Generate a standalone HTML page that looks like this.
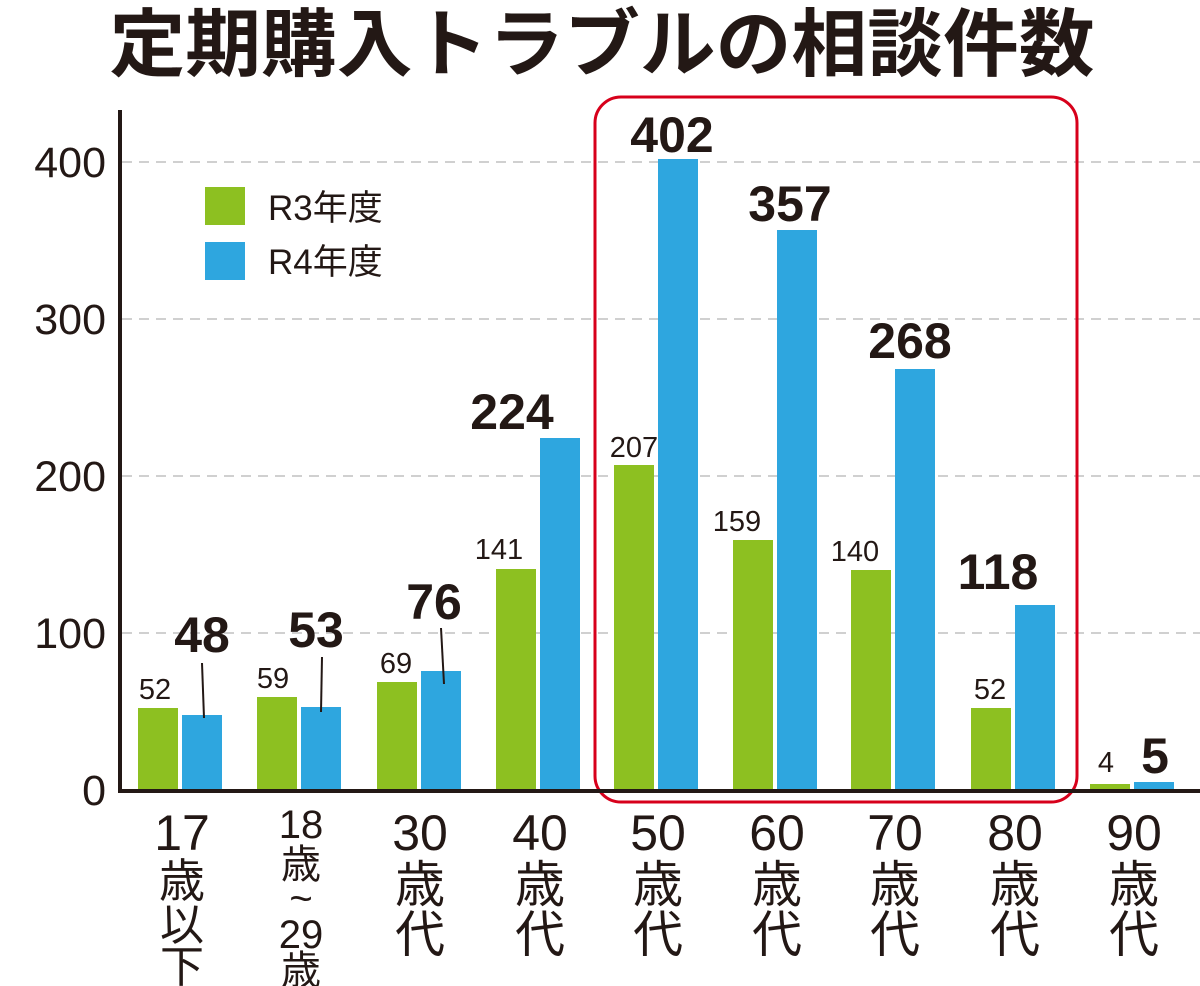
<!DOCTYPE html>
<html><head><meta charset="utf-8"><style>
html,body{margin:0;padding:0;background:#fff;}
svg{display:block;}
text{font-family:"Liberation Sans","Noto Sans CJK JP",sans-serif;fill:#231815;}
</style></head><body>
<svg width="1200" height="986" viewBox="0 0 1200 986">
<text x="602" y="70" text-anchor="middle" font-size="74" font-weight="bold" textLength="985" lengthAdjust="spacingAndGlyphs">定期購入トラブルの相談件数</text>
<g stroke="#d0d0d0" stroke-width="2" stroke-dasharray="10,7">
<line x1="122" y1="162" x2="1200" y2="162"/><line x1="122" y1="319" x2="1200" y2="319"/>
<line x1="122" y1="476" x2="1200" y2="476"/><line x1="122" y1="633" x2="1200" y2="633"/>
</g>
<g font-size="43" text-anchor="end">
<text x="106" y="177">400</text><text x="106" y="334">300</text><text x="106" y="491">200</text><text x="106" y="648">100</text><text x="106" y="805">0</text>
</g>
<rect x="595" y="97" width="482" height="705" rx="26" fill="none" stroke="#d7001b" stroke-width="3"/>
<g fill="#8dc021">
<rect x="138" y="708" width="40" height="82"/><rect x="257" y="697" width="40" height="93"/>
<rect x="377" y="682" width="40" height="108"/><rect x="496" y="569" width="40" height="221"/>
<rect x="614" y="465" width="40" height="325"/><rect x="733" y="540" width="40" height="250"/>
<rect x="851" y="570" width="40" height="220"/><rect x="971" y="708" width="40" height="82"/>
<rect x="1090" y="784" width="40" height="6"/>
</g>
<g fill="#2ea6df">
<rect x="182" y="715" width="40" height="75"/><rect x="301" y="707" width="40" height="83"/>
<rect x="421" y="671" width="40" height="119"/><rect x="540" y="438" width="40" height="352"/>
<rect x="658" y="159" width="40" height="631"/><rect x="777" y="230" width="40" height="560"/>
<rect x="895" y="369" width="40" height="421"/><rect x="1015" y="605" width="40" height="185"/>
<rect x="1134" y="782" width="40" height="8"/>
</g>
<line x1="120" y1="110" x2="120" y2="792" stroke="#231815" stroke-width="4"/>
<line x1="118" y1="791" x2="1200" y2="791" stroke="#231815" stroke-width="4"/>
<rect x="205" y="187" width="40" height="38" fill="#8dc021"/>
<rect x="205" y="242" width="40" height="38" fill="#2ea6df"/>
<text x="268" y="220" font-size="35">R3年度</text>
<text x="268" y="274" font-size="35">R4年度</text>
<g font-size="29" text-anchor="middle">
<text x="155" y="699">52</text><text x="273" y="688">59</text><text x="396" y="673">69</text>
<text x="499" y="559">141</text><text x="634" y="457">207</text><text x="737" y="531">159</text>
<text x="855" y="561">140</text><text x="990" y="699">52</text><text x="1106" y="772">4</text>
</g>
<g font-size="50" font-weight="bold" text-anchor="middle">
<text x="202" y="652">48</text><text x="316" y="647">53</text><text x="434" y="619">76</text>
<text x="512" y="429">224</text><text x="672" y="152">402</text><text x="790" y="221">357</text>
<text x="910" y="358">268</text><text x="998" y="589">118</text><text x="1155" y="773">5</text>
</g>
<g stroke="#231815" stroke-width="2">
<line x1="202" y1="663" x2="204" y2="718"/><line x1="322" y1="657" x2="321" y2="712"/><line x1="441" y1="628" x2="444" y2="684"/>
</g>
<g font-size="50" text-anchor="middle">
<text x="182" y="850">17</text><text x="182" y="897" font-size="46">歳</text><text x="182" y="940" font-size="44">以</text><text x="182" y="982" font-size="44">下</text>
<text x="301" y="838" font-size="40">18</text><text x="301" y="878" font-size="40">歳</text><text x="301" y="912" font-size="40">~</text><text x="301" y="948" font-size="40">29</text><text x="301" y="984" font-size="40">歳</text>
<text x="420" y="850">30</text><text x="420" y="902">歳</text><text x="420" y="952">代</text>
<text x="540" y="850">40</text><text x="540" y="902">歳</text><text x="540" y="952">代</text>
<text x="658" y="850">50</text><text x="658" y="902">歳</text><text x="658" y="952">代</text>
<text x="777" y="850">60</text><text x="777" y="902">歳</text><text x="777" y="952">代</text>
<text x="895" y="850">70</text><text x="895" y="902">歳</text><text x="895" y="952">代</text>
<text x="1015" y="850">80</text><text x="1015" y="902">歳</text><text x="1015" y="952">代</text>
<text x="1134" y="850">90</text><text x="1134" y="902">歳</text><text x="1134" y="952">代</text>
</g>
</svg>
</body></html>
